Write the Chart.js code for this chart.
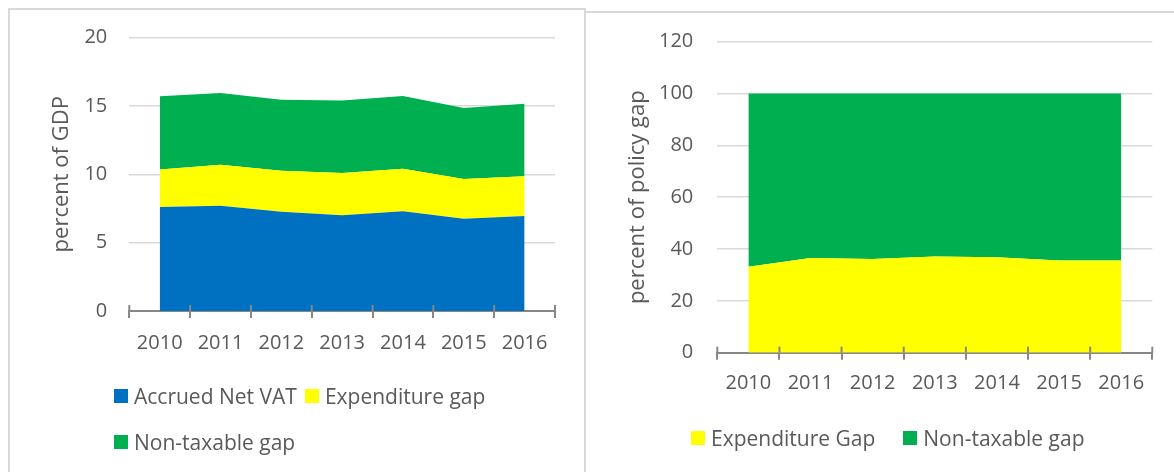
<!DOCTYPE html>
<html lang="en">
<head>
    <meta charset="UTF-8">
    <title>VAT gap composition</title>
    <script src="https://cdn.jsdelivr.net/npm/chart.js@4.4.0/dist/chart.umd.min.js"></script>
    <style>
        body {
            margin: 0;
            width: 1174px;
            height: 472px;
            overflow: hidden;
            background: #fff;
            font-family: 'Open Sans', sans-serif;
            position: relative;
        }
        .panel {
            position: absolute;
            border: 0 solid #d9d9d9;
        }
        #panelLeft {
            left: 8px; top: 8px; width: 574px; height: 480px;
            border-width: 2px 2px 0 2px;
        }
        #panelRight {
            left: 584px; top: 11px; width: 600px; height: 480px;
            border-width: 2px 0 0 0;
        }
        canvas { position: absolute; top: 0; }
        #gdp { left: 0; }
        #share { left: 584px; }
        .legend {
            position: absolute;
            display: flex;
            flex-wrap: wrap;
            font-size: 21px;
            line-height: 24px;
            color: #595959;
        }
        .legend .item { display: flex; align-items: center; white-space: nowrap; }
        .legend .box { width: 14px; height: 14px; margin-right: 6px; }
        #legendGdp { left: 114px; top: 384px; width: 430px; column-gap: 8px; row-gap: 22px; }
        #legendShare { left: 691px; top: 426px; width: 480px; column-gap: 28px; }
    </style>
</head>
<body>
    <div class="panel" id="panelLeft"></div>
    <div class="panel" id="panelRight"></div>
    <canvas id="gdp" width="584" height="472"></canvas>
    <canvas id="share" width="590" height="472"></canvas>
    <div class="legend" id="legendGdp"></div>
    <div class="legend" id="legendShare"></div>

    <script>
        // Données
        const years = ['2010', '2011', '2012', '2013', '2014', '2015', '2016'];

        // gauche : en % du PIB
        const accruedNetVat = [7.6, 7.7, 7.25, 7.0, 7.3, 6.75, 6.95];
        const expenditureGap = [2.75, 3.0, 3.0, 3.1, 3.1, 2.9, 2.9];
        const nonTaxableGap = [5.35, 5.25, 5.2, 5.3, 5.32, 5.2, 5.3];

        // droite : en % du policy gap
        const expenditureShare = [33.2, 36.5, 36.2, 37.1, 36.8, 35.6, 35.6];
        const nonTaxableShare = [66.8, 63.5, 63.8, 62.9, 63.2, 64.4, 64.4];

        const blue = '#0070C0';
        const yellow = '#FFFF00';
        const green = '#00B050';
        const axisGrey = '#878787';
        const gridGrey = '#d9d9d9';

        Chart.defaults.font.family = "'Open Sans', sans-serif";
        Chart.defaults.font.size = 20;
        Chart.defaults.color = '#595959';

        function area(label, values, color, fill) {
            return {
                label: label,
                data: values,
                backgroundColor: color,
                borderColor: 'rgba(0,0,0,0)',
                borderWidth: 0,
                pointRadius: 0,
                tension: 0,
                fill: fill
            };
        }

        // petits traits de graduation au-dessus de l'axe
        const innerTicks = {
            id: 'innerTicks',
            afterDatasetsDraw(chart) {
                const xs = chart.scales.x;
                const ctx = chart.ctx;
                const bottom = chart.chartArea.bottom;
                ctx.save();
                ctx.strokeStyle = axisGrey;
                ctx.lineWidth = 2;
                for (let i = 0; i <= chart.data.labels.length; i++) {
                    const px = xs.getPixelForValue(i - 0.5);
                    ctx.beginPath();
                    ctx.moveTo(px, bottom - 6);
                    ctx.lineTo(px, bottom);
                    ctx.stroke();
                }
                ctx.restore();
            }
        };

        function makeChart(id, datasets, cfg) {
            return new Chart(document.getElementById(id), {
                type: 'line',
                data: { labels: years, datasets: datasets },
                plugins: [innerTicks],
                options: {
                    responsive: false,
                    animation: false,
                    layout: { padding: cfg.padding },
                    plugins: {
                        legend: { display: false },
                        tooltip: { enabled: false }
                    },
                    scales: {
                        x: {
                            z: 1,
                            offset: true,
                            grid: {
                                offset: true,
                                drawOnChartArea: false,
                                drawTicks: true,
                                tickLength: 7,
                                color: axisGrey,
                                lineWidth: 2
                            },
                            border: { display: true, color: axisGrey, width: 2 },
                            ticks: { padding: cfg.xPad, maxRotation: 0, autoSkip: false },
                            afterFit: (s) => { s.height = cfg.xHeight; }
                        },
                        y: {
                            stacked: true,
                            min: 0,
                            max: cfg.max,
                            ticks: { stepSize: cfg.step, padding: cfg.yPad },
                            grid: { color: gridGrey, lineWidth: 1.5, drawTicks: false },
                            border: { display: false },
                            title: {
                                display: true,
                                text: cfg.title,
                                font: { size: 22 },
                                padding: { top: cfg.titlePad, bottom: 0 }
                            },
                            afterFit: (s) => { s.width = cfg.yWidth; }
                        }
                    }
                }
            });
        }

        const gdpChart = makeChart('gdp', [
            area('Accrued Net VAT', accruedNetVat, blue, 'origin'),
            area('Expenditure gap', expenditureGap, yellow, '-1'),
            area('Non-taxable gap', nonTaxableGap, green, '-1')
        ], {
            padding: { left: 40, right: 29, top: 37.5, bottom: 0 },
            max: 20, step: 5, title: 'percent of GDP', titlePad: 9,
            yWidth: 89.3, yPad: 22, xHeight: 161, xPad: 13
        });

        const shareChart = makeChart('share', [
            area('Expenditure Gap', expenditureShare, yellow, 'origin'),
            area('Non-taxable gap', nonTaxableShare, green, '-1')
        ], {
            padding: { left: 30, right: 21.7, top: 41.7, bottom: 0 },
            max: 120, step: 20, title: 'percent of policy gap', titlePad: 11,
            yWidth: 103.3, yPad: 24, xHeight: 119.3, xPad: 12
        });

        // Légendes en HTML
        function htmlLegend(el, chart) {
            chart.data.datasets.forEach(ds => {
                const item = document.createElement('span');
                item.className = 'item';
                const box = document.createElement('span');
                box.className = 'box';
                box.style.background = ds.backgroundColor;
                item.appendChild(box);
                item.appendChild(document.createTextNode(ds.label));
                el.appendChild(item);
            });
        }
        htmlLegend(document.getElementById('legendGdp'), gdpChart);
        htmlLegend(document.getElementById('legendShare'), shareChart);
    </script>
</body>
</html>
